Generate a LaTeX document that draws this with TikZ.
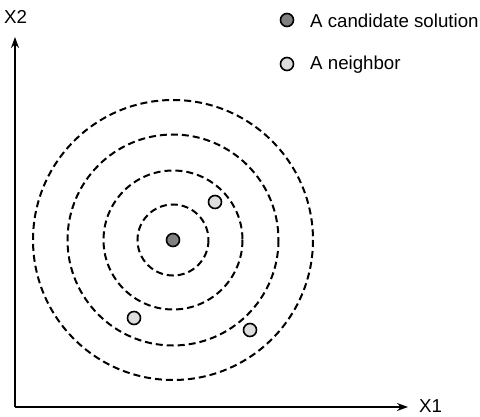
\documentclass[tikz,border=0pt]{standalone}
\usepackage{fontspec}
\setmainfont{Liberation Sans}
\usetikzlibrary{arrows.meta}
\definecolor{darkdot}{HTML}{808080}
\definecolor{lightdot}{HTML}{DDDDDD}
\begin{document}
\begin{tikzpicture}[x=1pt,y=-1pt,
  ring/.style={draw=black,line width=2pt,dash pattern=on 7pt off 4pt},
  cand/.style={circle,draw=black,line width=1.6pt,fill=darkdot,minimum size=13pt,inner sep=0pt},
  neigh/.style={circle,draw=black,line width=1.6pt,fill=lightdot,minimum size=13pt,inner sep=0pt},
  axis/.style={line width=1.5pt,-{Stealth[length=11pt,width=8pt]}},
  lbl/.style={font=\fontsize{18.7}{20}\selectfont,inner sep=0pt}]
\useasboundingbox (0,0) rectangle (480,417);
% rings
\coordinate (c) at (173,240);
\draw[ring] (c) circle[radius=35.5];
\draw[ring] (c) circle[radius=69.5];
\draw[ring] (c) circle[radius=105.5];
\draw[ring] (c) circle[radius=140];
% axes
\coordinate (o) at (15,407);
\coordinate (ytip) at (15,37);
\coordinate (xtip) at (408,407);
\draw[axis] (o) -- (ytip);
\draw[axis] (o) -- (xtip);
\node[lbl,anchor=west] (x2) at (4,17) {X2};
\node[lbl,anchor=west] (x1) at (419,406) {X1};
% points
\node[cand] (s) at (c) {};
\node[neigh] (n1) at (215,202) {};
\node[neigh] (n2) at (134,318) {};
\node[neigh] (n3) at (250,330) {};
% legend
\node[cand] (lc) at (287,20) {};
\node[lbl,anchor=west] (lct) at (310,21) {A candidate solution};
\node[neigh] (ln) at (287,64) {};
\node[lbl,anchor=west] (lnt) at (310,65) {A neighbor};
\end{tikzpicture}
\end{document}
